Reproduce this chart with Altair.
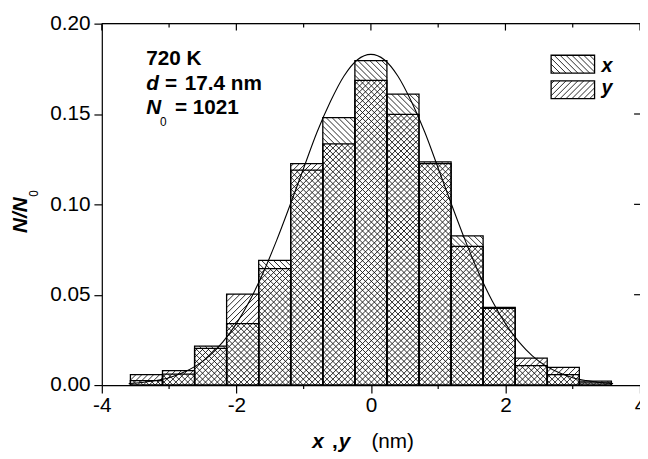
import math
import altair as alt
import pandas as pd

FONT = "Liberation Sans"
W, H = 545, 366
XMIN, XMAX, YMAX = -4.0, 4.0, 0.2

# ---- data ----
bin_edges = [-3.575, -3.098, -2.621, -2.145, -1.668, -1.192, -0.715, -0.238,
             0.238, 0.715, 1.192, 1.668, 2.145, 2.621, 3.098, 3.575]
x_frac = [0.0025, 0.0060, 0.0215, 0.0340, 0.0690, 0.1190, 0.1480, 0.1795,
          0.1610, 0.1235, 0.0825, 0.0430, 0.0107, 0.0058, 0.0022]
y_frac = [0.0058, 0.0080, 0.0203, 0.0503, 0.0644, 0.1225, 0.1335, 0.1686,
          0.1498, 0.1225, 0.0767, 0.0425, 0.0149, 0.0098, 0.0012]
curve_x = [-3.6, -3.4, -3.2, -3.0, -2.8, -2.6, -2.4, -2.2, -2.0, -1.8, -1.6, -1.4,
           -1.2, -1.0, -0.8, -0.6, -0.4, -0.2, 0.0, 0.2, 0.4, 0.6, 0.8, 1.0,
           1.2, 1.4, 1.6, 1.8, 2.0, 2.2, 2.4, 2.6, 2.8, 3.0, 3.2, 3.4, 3.6]
curve_y = [0.0008, 0.0014, 0.0025, 0.0041, 0.0068, 0.0106, 0.0162, 0.0239, 0.0340,
           0.0468, 0.0623, 0.0802, 0.0998, 0.1200, 0.1400, 0.1570, 0.1710, 0.1800,
           0.1830, 0.1800, 0.1710, 0.1570, 0.1400, 0.1200, 0.0998, 0.0802, 0.0623,
           0.0468, 0.0340, 0.0239, 0.0162, 0.0106, 0.0068, 0.0041, 0.0025, 0.0014,
           0.0008]
x_major = [-4, -2, 0, 2, 4]
x_minor = [-3, -1, 1, 3]
y_ticks = [0.0, 0.05, 0.10, 0.15, 0.20]

SP = 6.0  # hatch spacing in px


def px_x(v):
    return (v - XMIN) / (XMAX - XMIN) * W


def px_y(v):
    return v / YMAX * H


def dx(p):
    return XMIN + p / W * (XMAX - XMIN)


def dy(p):  # p measured upward from the x axis
    return p / H * YMAX


def hatch(x0, x1, y0, y1, slope):
    segs = []
    if slope > 0:
        cmin, cmax = y0 - x1, y1 - x0
        for k in range(math.ceil(cmin / SP), math.floor(cmax / SP) + 1):
            c = k * SP
            xa, xb = max(x0, y0 - c), min(x1, y1 - c)
            if xb - xa > 0.4:
                segs.append((xa, xa + c, xb, xb + c))
    else:
        cmin, cmax = x0 + y0, x1 + y1
        for k in range(math.ceil(cmin / SP), math.floor(cmax / SP) + 1):
            c = k * SP
            xa, xb = max(x0, c - y1), min(x1, c - y0)
            if xb - xa > 0.4:
                segs.append((xa, c - xa, xb, c - xb))
    return segs


rows = []
for i in range(len(x_frac)):
    a, b = px_x(bin_edges[i]), px_x(bin_edges[i + 1])
    for val, slope in ((x_frac[i], -1), (y_frac[i], 1)):
        for (xa, ya, xb, yb) in hatch(a, b, 0.0, px_y(val), slope):
            rows.append({"xa": dx(xa), "ya": dy(ya), "xb": dx(xb), "yb": dy(yb)})

# legend boxes (pixel positions from the top-left of the plot) and their hatching
boxes = [(455, 499, 32, 50, -1), (455, 499, 58, 76, 1)]
box_rows = []
for (bx0, bx1, by0, by1, slope) in boxes:
    box_rows.append({"x0": dx(bx0), "x1": dx(bx1), "y0": dy(H - by0), "y1": dy(H - by1)})
    for (xa, ya, xb, yb) in hatch(bx0, bx1, H - by1, H - by0, slope):
        rows.append({"xa": dx(xa), "ya": dy(ya), "xb": dx(xb), "yb": dy(yb)})
hatch_df = pd.DataFrame(rows)
box_df = pd.DataFrame(box_rows)

bars = pd.DataFrame({"x0": bin_edges[:-1], "x1": bin_edges[1:],
                     "nx": x_frac, "ny": y_frac, "zero": [0.0] * len(x_frac)})
curve = pd.DataFrame({"x": curve_x, "y": curve_y})

xscale = alt.Scale(domain=[XMIN, XMAX], nice=False, zero=False)
yscale = alt.Scale(domain=[0, YMAX], nice=False, zero=True)

xaxis = alt.Axis(values=x_major, tickSize=8, tickWidth=1.2, domainWidth=1.2,
                 domainColor="black", tickColor="black", labelColor="black",
                 labelFont=FONT, labelFontSize=21, labelPadding=2, grid=False,
                 title=None, labelFlush=False, labelOverlap=False,
                 labelExpr="datum.value + ''")
yaxis = alt.Axis(values=y_ticks, format=".2f", tickSize=8, tickWidth=1.2,
                 domainWidth=1.2, domainColor="black", tickColor="black",
                 labelColor="black", labelFont=FONT, labelFontSize=21,
                 labelPadding=4, grid=False, title=None, labelOverlap=False)


def X(f):
    return alt.X(f, scale=xscale, axis=xaxis)


def Y(f):
    return alt.Y(f, scale=yscale, axis=yaxis)


hatch_layer = alt.Chart(hatch_df).mark_rule(color="#111111", strokeWidth=0.9).encode(
    x=X("xa:Q"), y=Y("ya:Q"), x2="xb:Q", y2="yb:Q")

rect_x = alt.Chart(bars).mark_rect(fillOpacity=0, stroke="black", strokeWidth=1.3).encode(
    x=X("x0:Q"), x2="x1:Q", y=Y("nx:Q"), y2="zero:Q")
rect_y = alt.Chart(bars).mark_rect(fillOpacity=0, stroke="black", strokeWidth=1.3).encode(
    x=X("x0:Q"), x2="x1:Q", y=Y("ny:Q"), y2="zero:Q")
leg_boxes = alt.Chart(box_df).mark_rect(fillOpacity=0, stroke="black", strokeWidth=1.3).encode(
    x=X("x0:Q"), x2="x1:Q", y=Y("y0:Q"), y2="y1:Q")

curve_layer = alt.Chart(curve).mark_line(color="black", strokeWidth=1.1,
                                         interpolate="monotone").encode(
    x=X("x:Q"), y=Y("y:Q"))

one = pd.DataFrame({"a": [0]})
top_line = alt.Chart(one).mark_rule(color="black", strokeWidth=1.2).encode(
    x=alt.value(0), x2=alt.value(W), y=alt.value(0))
top_major = alt.Chart(pd.DataFrame({"t": x_major})).mark_rule(color="black", strokeWidth=1.2).encode(
    x=X("t:Q"), y=alt.value(0), y2=alt.value(7))
top_minor = alt.Chart(pd.DataFrame({"t": x_minor})).mark_rule(color="black", strokeWidth=1.2).encode(
    x=X("t:Q"), y=alt.value(0), y2=alt.value(4))
bot_minor = alt.Chart(pd.DataFrame({"t": x_minor})).mark_rule(color="black", strokeWidth=1.2).encode(
    x=X("t:Q"), y=alt.value(H), y2=alt.value(H + 4))
right_ticks = alt.Chart(pd.DataFrame({"t": y_ticks[1:4]})).mark_rule(color="black", strokeWidth=1.2).encode(
    y=Y("t:Q"), x=alt.value(W - 6), x2=alt.value(W))


def label(txt, x, y, size=21, weight="bold", style="normal", align="left", angle=0):
    return alt.Chart(one).mark_text(
        text=txt, font=FONT, fontSize=size, fontWeight=weight, fontStyle=style,
        align=align, baseline="alphabetic", angle=angle, color="black"
    ).encode(x=alt.value(x), y=alt.value(y))


texts = [
    label("720 K", 45, 42),
    label("d", 45, 67, style="italic"),
    label("=", 64, 67),
    label("17.4 nm", 84, 67),
    label("N", 45, 92, style="italic"),
    label("0", 59, 104, size=12, weight="normal"),
    label("= 1021", 74, 92),
    # x axis title
    label("x", 213, 430, style="italic"),
    label(",", 233, 430),
    label("y", 240, 430, style="italic"),
    label("(nm)", 273, 430, weight="normal"),
    # y axis title
    label("N/N", -76, 194, style="italic", align="center", angle=270),
    label("0", -65, 172, size=12, weight="normal", align="center", angle=270),
    # legend labels
    label("x", 506, 49, size=20, style="italic"),
    label("y", 506, 71, size=20, style="italic"),
]

chart = alt.layer(
    hatch_layer, rect_x, rect_y, leg_boxes, curve_layer,
    top_line, top_major, top_minor, bot_minor, right_ticks,
    *texts
).properties(
    width=W, height=H,
    autosize=alt.AutoSizeParams(type="none"),
    padding={"left": 95, "top": 13, "right": 0, "bottom": 70},
).configure_view(stroke=None).configure(background="white")

chart.save("out.html", embed_options={"renderer": "svg", "actions": False})
